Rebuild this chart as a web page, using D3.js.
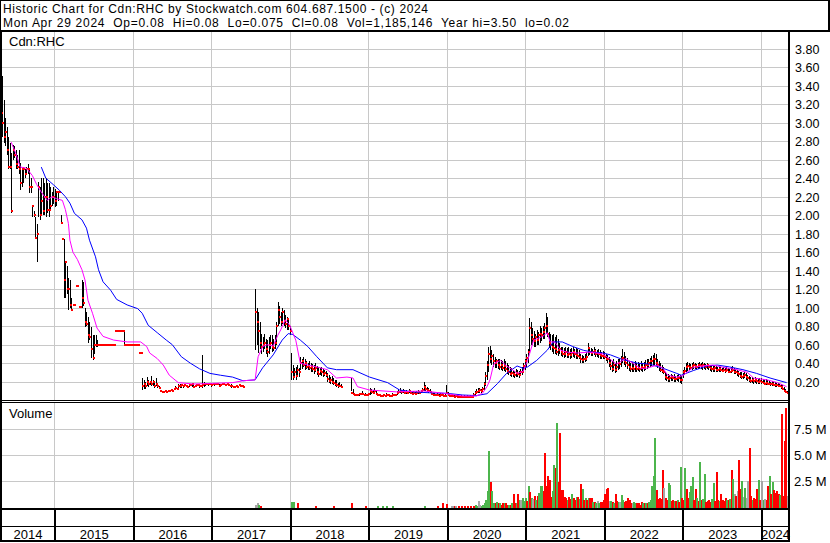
<!DOCTYPE html>
<html><head><meta charset="utf-8">
<script src="https://cdn.jsdelivr.net/npm/d3@7"></script>
<style>
body{margin:0;background:#fff;}
svg{display:block;font-family:"Liberation Sans",Arial,sans-serif;}
text{white-space:pre;}
</style></head><body>
<svg id="c" width="830" height="543"></svg>
<script>
// ---------------- DATA ----------------
const titleLine1 = "Historic Chart for Cdn:RHC by Stockwatch.com 604.687.1500 - (c) 2024";
const titleLine2 = "Mon Apr 29 2024  Op=0.08  Hi=0.08  Lo=0.075  Cl=0.08  Vol=1,185,146  Year hi=3.50  lo=0.02";
const symbolLabel = "Cdn:RHC";
const volumeLabel = "Volume";
const firstWeek = new Date(2014, 3, 28);
const lastWeek = new Date(2024, 3, 29);
const priceTicks = [0.2,0.4,0.6,0.8,1.0,1.2,1.4,1.6,1.8,2.0,2.2,2.4,2.6,2.8,3.0,3.2,3.4,3.6,3.8];
const volTicks = [2.5, 5.0, 7.5];            // millions
const volTickLabels = ["2.5 M", "5.0 M", "7.5 M"];
const yearLabels = ["2014","2015","2016","2017","2018","2019","2020","2021","2022","2023","2024"];

// weekly high / low / close (null = no trade range)
const hi = [
3.30,3.50,3.25,3.05,2.95,2.85,2.78,2.67,2.76,2.75,
2.70,2.65,2.70,2.56,2.50,2.52,2.50,2.52,2.55,2.49,
2.40,2.11,2.05,1.98,1.90,2.36,2.30,2.40,2.40,2.35,
2.40,2.35,2.35,2.30,2.25,2.30,2.28,2.25,2.25,null,
2.00,null,1.74,1.49,1.45,1.32,1.30,1.10,null,null,
null,null,null,null,1.30,1.28,1.00,0.95,0.90,0.85,
0.79,0.70,0.70,0.70,0.65,null,null,null,null,null,
null,null,null,null,null,null,null,null,null,null,
null,null,0.75,null,null,null,null,null,null,null,
null,null,null,null,0.24,0.22,0.20,0.25,0.22,0.20,
0.26,0.22,0.20,0.24,0.17,0.15,null,null,null,null,
null,null,null,null,null,null,0.15,null,0.17,0.18,
0.17,0.16,0.17,null,0.16,0.17,null,0.18,0.17,null,
0.17,null,0.16,null,0.49,0.20,0.18,null,0.19,null,
0.18,null,0.18,null,null,0.17,null,null,null,0.18,
null,null,null,0.17,null,null,null,null,null,null,
null,null,null,null,null,null,null,null,null,1.20,
1.00,0.95,0.85,0.72,0.68,0.72,0.66,0.65,0.68,0.70,
0.70,0.66,0.70,0.85,1.06,1.02,0.95,1.00,0.98,0.92,
0.90,0.87,0.80,0.51,0.38,0.35,0.36,0.38,0.35,0.47,
0.45,0.47,0.44,0.42,0.40,0.42,0.40,0.39,0.38,0.40,
0.37,0.36,0.35,0.36,0.34,0.33,0.32,0.29,0.27,0.25,
0.26,0.24,0.22,0.22,0.19,0.20,0.18,null,null,null,
null,null,null,0.24,0.12,0.08,0.07,null,0.08,null,
0.10,null,0.08,null,0.08,0.13,0.12,0.11,0.13,0.10,
0.08,null,0.07,null,0.07,null,0.08,null,0.07,null,
0.08,null,0.07,0.10,0.12,0.13,0.11,0.12,0.10,0.11,
0.10,0.12,0.10,0.09,0.10,0.09,0.10,0.11,0.10,0.11,
0.13,0.20,0.16,0.14,0.13,0.12,0.10,0.08,0.08,0.07,
0.08,0.07,0.08,0.08,0.07,0.07,0.16,0.09,0.07,0.06,
0.07,0.06,0.06,0.06,0.06,0.05,0.06,0.05,0.06,0.05,
0.06,0.05,0.06,0.05,0.08,0.10,0.12,0.13,0.13,0.12,
0.14,0.20,0.30,0.42,0.58,0.59,0.54,0.50,0.47,0.45,
0.44,0.45,0.43,0.42,0.44,0.42,0.40,0.38,0.36,0.35,
0.33,0.32,0.34,0.33,0.32,0.34,0.36,0.40,0.45,0.50,
0.55,0.89,0.85,0.78,0.75,0.72,0.76,0.74,0.80,0.78,
0.80,0.84,0.94,0.90,0.74,0.72,0.70,0.72,0.68,0.70,
0.66,0.62,0.58,0.57,0.56,0.58,0.56,0.57,0.55,0.56,
0.57,0.55,0.56,0.55,0.54,0.50,0.49,0.48,0.50,0.52,
0.62,0.58,0.56,0.55,0.57,0.55,0.54,0.55,0.54,0.52,
0.53,0.52,0.50,0.49,0.47,0.45,0.42,0.44,0.40,0.42,
0.45,0.44,0.48,0.55,0.52,0.48,0.46,0.42,0.40,0.41,
0.40,0.42,0.40,0.41,0.40,0.42,0.40,0.41,0.43,0.44,
0.45,0.46,0.48,0.49,0.51,0.50,0.45,0.42,0.40,0.38,
0.36,0.30,0.29,0.28,0.27,0.28,0.27,0.28,0.26,0.27,
0.28,0.27,0.26,0.33,0.36,0.40,0.41,0.40,0.39,0.40,
0.41,0.40,0.39,0.40,0.41,0.40,0.41,0.40,0.39,0.40,
0.39,0.38,0.38,0.37,0.38,0.37,0.36,0.37,0.36,0.35,
0.36,0.35,0.36,0.35,0.34,0.36,0.37,0.35,0.34,0.33,
0.32,0.30,0.30,0.29,0.30,0.29,0.27,0.26,0.25,0.25,
0.24,0.25,0.24,0.23,0.24,0.24,0.23,0.22,0.23,0.22,
0.21,0.20,0.21,0.20,0.20,0.19,0.19,0.18,0.17,0.16,
0.14,0.12,0.10];
const lo = [
2.95,2.85,2.78,2.75,2.65,2.50,2.50,2.02,2.60,2.62,
2.50,2.50,2.45,2.27,2.30,2.35,2.40,2.45,2.45,2.24,
2.24,1.98,1.98,1.74,1.49,1.98,1.95,2.00,2.00,2.00,
1.98,2.02,1.98,2.05,2.10,2.12,2.09,2.10,2.15,null,
1.90,null,1.10,1.10,1.15,0.97,1.00,0.97,null,null,
null,null,null,null,1.00,1.02,0.79,0.80,0.62,0.65,
0.46,0.43,0.50,0.57,0.57,null,null,null,null,null,
null,null,null,null,null,null,null,null,null,null,
null,null,0.60,null,null,null,null,null,null,null,
null,null,null,null,0.11,0.12,0.12,0.15,0.14,0.16,
0.15,0.15,0.13,0.15,0.13,0.12,null,null,null,null,
null,null,null,null,null,null,0.11,null,0.12,0.13,
0.13,0.13,0.14,null,0.13,0.14,null,0.14,0.13,null,
0.14,null,0.13,null,0.13,0.14,0.15,null,0.15,null,
0.14,null,0.15,null,null,0.14,null,null,null,0.15,
null,null,null,0.13,null,null,null,null,null,null,
null,null,null,null,null,null,null,null,null,0.54,
0.60,0.51,0.55,0.50,0.52,0.55,0.50,0.47,0.50,0.55,
0.52,0.53,0.55,0.60,0.80,0.82,0.80,0.82,0.80,0.78,
0.76,0.76,0.70,0.22,0.22,0.24,0.22,0.26,0.25,0.33,
0.34,0.36,0.33,0.34,0.33,0.33,0.30,0.31,0.28,0.30,
0.27,0.25,0.27,0.26,0.25,0.26,0.25,0.20,0.19,0.18,
0.18,0.16,0.15,0.14,0.13,0.14,0.13,null,null,null,
null,null,null,0.10,0.06,0.05,0.05,null,0.05,null,
0.06,null,0.05,null,0.05,0.06,0.07,0.07,0.07,0.06,
0.05,null,0.04,null,0.05,null,0.05,null,0.04,null,
0.05,null,0.05,0.06,0.07,0.08,0.07,0.08,0.07,0.07,
0.07,0.08,0.07,0.06,0.07,0.06,0.07,0.07,0.07,0.08,
0.09,0.10,0.10,0.09,0.08,0.08,0.06,0.05,0.05,0.05,
0.05,0.04,0.05,0.05,0.04,0.04,0.07,0.05,0.04,0.04,
0.04,0.035,0.04,0.035,0.035,0.03,0.035,0.03,0.035,0.03,
0.035,0.03,0.03,0.03,0.04,0.06,0.07,0.08,0.08,0.08,
0.09,0.11,0.15,0.22,0.30,0.40,0.38,0.36,0.35,0.35,
0.34,0.33,0.33,0.32,0.32,0.30,0.28,0.27,0.26,0.25,
0.25,0.24,0.25,0.25,0.24,0.26,0.27,0.30,0.33,0.36,
0.40,0.51,0.60,0.60,0.58,0.58,0.60,0.60,0.62,0.64,
0.66,0.66,0.72,0.68,0.56,0.54,0.52,0.50,0.50,0.49,
0.48,0.50,0.48,0.47,0.46,0.47,0.46,0.46,0.45,0.46,
0.47,0.46,0.45,0.45,0.44,0.40,0.40,0.40,0.41,0.42,
0.48,0.49,0.48,0.48,0.49,0.47,0.47,0.46,0.45,0.45,
0.45,0.44,0.42,0.40,0.36,0.33,0.30,0.32,0.29,0.31,
0.33,0.34,0.36,0.40,0.38,0.36,0.34,0.32,0.30,0.31,
0.30,0.31,0.30,0.32,0.31,0.32,0.30,0.32,0.33,0.34,
0.35,0.36,0.37,0.38,0.38,0.37,0.35,0.32,0.30,0.29,
0.28,0.22,0.21,0.20,0.20,0.21,0.21,0.20,0.20,0.21,
0.20,0.19,0.18,0.24,0.27,0.30,0.32,0.33,0.33,0.33,
0.34,0.34,0.33,0.34,0.35,0.34,0.33,0.34,0.33,0.34,
0.33,0.32,0.31,0.31,0.31,0.30,0.30,0.31,0.30,0.30,
0.30,0.29,0.30,0.29,0.29,0.29,0.30,0.28,0.28,0.26,
0.25,0.24,0.23,0.23,0.24,0.22,0.21,0.20,0.19,0.19,
0.18,0.19,0.18,0.18,0.18,0.17,0.17,0.16,0.16,0.16,
0.16,0.15,0.15,0.15,0.14,0.14,0.14,0.14,0.12,0.11,
0.09,0.075,0.075];
const cl = [
3.10,3.00,2.85,2.90,2.70,2.52,2.52,2.05,2.70,2.65,
2.55,2.52,2.50,2.35,2.50,2.50,2.45,2.50,2.50,2.30,
2.30,2.10,2.00,1.75,1.80,2.30,2.00,2.15,2.05,2.20,
2.20,2.06,2.06,2.10,2.20,2.20,2.15,2.25,2.25,2.25,
1.92,1.74,1.30,1.49,1.20,1.20,1.03,0.98,1.03,1.03,
1.24,1.24,1.01,1.01,1.10,1.05,0.85,0.82,0.70,0.68,
0.55,0.46,0.60,0.60,0.60,0.60,0.60,0.60,0.60,0.60,
0.60,0.60,0.60,0.60,0.60,0.60,0.75,0.75,0.75,0.75,
0.75,0.75,0.60,0.60,0.60,0.60,0.60,0.60,0.60,0.60,
0.60,0.60,0.51,0.51,0.15,0.18,0.15,0.20,0.18,0.20,
0.17,0.20,0.15,0.17,0.15,0.13,0.10,0.09,0.09,0.10,
0.09,0.10,0.10,0.11,0.10,0.12,0.13,0.12,0.15,0.15,
0.16,0.15,0.16,0.15,0.14,0.16,0.16,0.17,0.14,0.15,
0.16,0.16,0.15,0.15,0.16,0.17,0.17,0.18,0.17,0.17,
0.16,0.17,0.17,0.18,0.17,0.15,0.16,0.17,0.17,0.16,
0.17,0.16,0.15,0.15,0.14,0.14,0.15,0.14,0.16,0.15,
0.15,0.14,null,null,null,null,null,null,null,0.95,
0.85,0.75,0.62,0.58,0.60,0.62,0.55,0.52,0.60,0.62,
0.58,0.56,0.62,0.80,0.98,0.90,0.85,0.95,0.86,0.82,
0.88,0.80,0.75,0.30,0.25,0.30,0.26,0.33,0.30,0.40,
0.42,0.38,0.40,0.36,0.37,0.35,0.36,0.34,0.33,0.35,
0.30,0.28,0.32,0.30,0.28,0.29,0.27,0.23,0.21,0.22,
0.20,0.19,0.18,0.16,0.15,0.15,0.14,null,null,null,
null,null,null,0.08,0.07,0.06,0.06,0.06,0.07,0.07,
0.07,0.06,0.06,0.06,0.07,0.10,0.09,0.08,0.10,0.07,
0.06,0.06,0.05,0.05,0.06,0.05,0.06,0.06,0.05,0.05,
0.06,0.06,0.06,0.08,0.09,0.10,0.09,0.10,0.08,0.09,
0.08,0.10,0.08,0.07,0.08,0.07,0.08,0.09,0.08,0.10,
0.11,0.14,0.12,0.11,0.10,0.09,0.07,0.06,0.06,0.06,
0.06,0.05,0.06,0.06,0.05,0.05,0.08,0.06,0.05,0.05,
0.05,0.04,0.05,0.04,0.04,0.04,0.04,0.035,0.04,0.04,
0.04,0.035,0.04,0.04,0.06,0.08,0.09,0.10,0.11,0.10,
0.12,0.18,0.26,0.38,0.50,0.45,0.48,0.42,0.40,0.42,
0.38,0.36,0.38,0.35,0.37,0.34,0.32,0.30,0.28,0.29,
0.28,0.27,0.29,0.28,0.27,0.30,0.31,0.37,0.42,0.46,
0.52,0.78,0.70,0.66,0.64,0.68,0.65,0.70,0.72,0.70,
0.74,0.78,0.80,0.72,0.62,0.60,0.58,0.56,0.55,0.52,
0.54,0.55,0.52,0.50,0.50,0.52,0.49,0.50,0.49,0.51,
0.52,0.50,0.49,0.48,0.47,0.44,0.43,0.44,0.45,0.47,
0.56,0.52,0.51,0.52,0.53,0.50,0.51,0.50,0.49,0.48,
0.48,0.47,0.45,0.44,0.40,0.37,0.34,0.38,0.33,0.36,
0.40,0.39,0.44,0.46,0.42,0.40,0.38,0.36,0.34,0.35,
0.34,0.36,0.34,0.35,0.34,0.36,0.35,0.36,0.38,0.38,
0.40,0.42,0.42,0.44,0.45,0.40,0.38,0.36,0.33,0.32,
0.30,0.25,0.24,0.23,0.24,0.25,0.24,0.23,0.23,0.24,
0.24,0.22,0.22,0.30,0.32,0.36,0.37,0.36,0.35,0.37,
0.38,0.37,0.36,0.38,0.38,0.37,0.38,0.37,0.36,0.38,
0.36,0.35,0.34,0.34,0.35,0.33,0.33,0.34,0.33,0.32,
0.33,0.32,0.33,0.31,0.31,0.32,0.33,0.31,0.30,0.29,
0.28,0.26,0.25,0.26,0.27,0.25,0.24,0.22,0.21,0.22,
0.21,0.22,0.21,0.20,0.21,0.20,0.19,0.18,0.19,0.18,
0.18,0.17,0.17,0.16,0.16,0.16,0.15,0.15,0.14,0.12,
0.10,0.09,0.08];

// weekly volume in millions, starting at week index volFirstWeek
const volFirstWeek = 169;
const volume = [
0.2,0.3,0.15,0.1,0,0,0,0,0,0,0,
0,0,0,0,0,0,0,0,0,0,
0,0,0,0.45,0.45,0,0,0.3,0,0,
0,0,0,0,0,0,0,0,0,0.1,
0,0,0,0,0,0,0,0,0,0,
0,0.1,0,0,0,0,0,0,0,0,
0,0,0,0.35,0,0,0,0,0,0,
0,0,0.1,0,0,0,0,0,0,0,
0.1,0,0,0.1,0,0,0.1,0,0,0,
0.1,0,0,0,0,0,0,0,0,0,
0,0,0,0,0,0,0,0,0,0,
0,0.1,0,0,0,0,0,0,0,0,
0.1,0,0,0.3,0,0,0.25,0,0,0.1,
0.1,0.1,0.1,0,0.1,0,0.1,0,0.1,0,
0.1,0,0.1,0,0.1,0.2,0.1,0.5,0.2,0.1,
0.2,0.3,0.6,1.5,5.35,2.4,1.5,0.3,0.3,0.4,
0.3,0.3,0.2,0.3,0.3,0.3,0.2,0.2,0.2,0.3,
1.2,0.3,0.3,1.2,0.6,0.6,0.8,0.5,0.8,0.5,
2.0,1.4,0.8,0.7,1.0,0.6,1.0,1.3,2.0,2.0,
1.5,5.2,2.0,2.9,2.6,0.9,1.5,4.0,3.7,8.0,
2.4,7.1,1.6,1.6,0.9,0.8,0.6,0.9,0.7,1.2,
0.8,0.6,0.9,0.9,0.7,2.2,1.7,0.6,0.8,0.6,
0.8,0.8,0.8,0.4,0.4,0.3,0.5,0.3,0.4,0.4,
0.6,1.2,1.7,1.8,0.5,0.5,0.4,0.3,1.25,0.5,
0.4,0.4,1.1,0.6,0.4,0.5,0.8,0.6,0.3,0.3,
0.4,0.3,0.3,0.3,0.2,0.4,0.3,0.3,0.3,0.3,
0.4,0.6,1.95,2.9,6.6,1.6,0.7,0.8,0.7,3.5,
1.75,0.8,0.6,2.3,2.1,0.5,0.6,0.5,0.5,0.6,
0.4,3.8,0.8,0.6,3.7,1.7,0.8,1.4,2.0,2.8,
0.6,1.7,0.8,0.5,4.3,0.6,0.7,3.1,0.4,0.5,
0.6,0.4,0.7,2.3,0.5,3.3,0.6,0.5,1.2,0.6,
0.5,0.8,0.6,0.6,0.7,3.5,2.7,1.2,1.0,1.5,
4.5,1.7,2.5,0.9,1.8,0.8,2.5,5.6,1.0,0.6,
0.8,0.7,1.7,2.6,0.6,2.5,0.6,0.7,0.6,2.0,
2.9,1.2,2.4,1.6,1.3,1.5,1.2,1.1,8.9,1.0,
6.3,9.5,1.0];
// u = up week, d = down week, n = unchanged
const volDir = (
"nnudnnnnnnn" + "nnnnnnnnnn" + "nnnuunndnn" + "nnnnnnnnnd" + "nnnnnnnnnn" +
"ndnnnnnnnn" + "nnndnnnnnn" + "nndnnnnnnn" + "unnunnunnn" + "unnnnnnnnn" +
"nnnnnnnnnn" + "nunnnnnnnn" + "dnndnndnnn" + "ndnndndndn" + "dndnduunnu" +
"uuuuuduudu" + "dudduddudu" + "ddudunuuud" + "udunduduuu" + "dddddduudu" +
"dddddduddu" + "ddudududud" + "uddudunudd" + "ddddnududd" + "unuudddddn" +
"uuddddudud" + "uuuuuddddd" + "ndduuddudu" + "duddudduuu" + "ddududuudd" +
"dduudddudd" + "ddududundn" + "ddununnddu" + "dddudnundd" + "ududdddudd" +
"ddn").split("");

// moving averages: week index -> value
const maShortWeek = [7,10,13,17,21,24,27,31,34,37,41,43,45,46,48,51,54,56,58,61,64,68,75,84,93,97,99,104,108,112,118,128,137,154,161,169,171,174,177,181,184,186,189,192,196,199,204,210,217,223,230,234,237,245,263,281,294,307,316,320,323,325,327,328,332,336,340,343,347,350,354,357,360,363,365,368,372,376,383,391,400,405,409,415,418,425,429,436,440,443,449,453,460,466,473,480,489,496,500,509,516,522];
const maShortVal = [2.79,2.67,2.52,2.51,2.43,2.33,2.25,2.16,2.20,2.18,2.16,2.06,1.91,1.73,1.60,1.52,1.41,1.30,1.08,0.94,0.78,0.69,0.65,0.63,0.63,0.58,0.51,0.45,0.38,0.27,0.19,0.175,0.18,0.19,0.21,0.22,0.47,0.58,0.60,0.586,0.70,0.76,0.87,0.81,0.65,0.40,0.38,0.36,0.33,0.24,0.25,0.24,0.146,0.11,0.09,0.10,0.075,0.045,0.045,0.075,0.146,0.22,0.36,0.40,0.43,0.37,0.33,0.29,0.31,0.43,0.65,0.67,0.69,0.73,0.63,0.63,0.54,0.52,0.51,0.52,0.50,0.44,0.39,0.45,0.42,0.345,0.345,0.38,0.345,0.27,0.25,0.265,0.355,0.37,0.38,0.355,0.33,0.30,0.24,0.22,0.19,0.146];
const maLongWeek = [27,30,35,39,43,46,49,54,57,59,63,65,68,73,77,84,91,94,98,104,110,114,120,126,132,139,146,154,161,169,174,181,187,191,194,199,204,210,217,223,234,245,257,265,274,285,296,307,316,323,330,336,343,347,350,356,363,367,373,380,387,393,400,405,413,423,431,440,449,452,460,469,476,484,493,502,511,522];
const maLongVal = [2.52,2.40,2.33,2.27,2.20,2.13,2.02,1.95,1.86,1.73,1.55,1.41,1.28,1.19,1.09,1.03,0.99,0.94,0.81,0.73,0.65,0.60,0.47,0.40,0.34,0.29,0.27,0.25,0.21,0.22,0.35,0.49,0.65,0.72,0.71,0.65,0.58,0.47,0.35,0.33,0.33,0.25,0.19,0.11,0.09,0.08,0.075,0.056,0.05,0.07,0.18,0.29,0.37,0.345,0.36,0.43,0.54,0.63,0.63,0.58,0.54,0.52,0.51,0.49,0.44,0.40,0.39,0.345,0.29,0.27,0.32,0.37,0.38,0.36,0.33,0.29,0.24,0.19];

// ---------------- CHART ----------------
const svg = d3.select("#c");
const W = 830, H = 543;
const plotL = 2, plotR = 788;
const priceTop = 32, priceBot = 400;
const volTop = 403, volBot = 508;
const dateTop = 510, dateBot = 541;

const weeks = d3.timeMonday.range(firstWeek, d3.timeDay.offset(lastWeek, 1));
const x = d3.scaleTime().domain([firstWeek, lastWeek]).range([0.66, 786.6]);
const y = d3.scaleLinear().domain([0, 3.8]).range([400.2, 48.7]);
const yv = d3.scaleLinear().domain([0, 10]).range([506.6, 402.6]);

svg.append("rect").attr("width", W).attr("height", H).attr("fill", "#fff");

const defs = svg.append("defs");
defs.append("clipPath").attr("id", "cp").append("rect")
  .attr("x", plotL).attr("y", priceTop).attr("width", plotR - plotL).attr("height", priceBot - priceTop);
defs.append("clipPath").attr("id", "cv").append("rect")
  .attr("x", plotL).attr("y", volTop).attr("width", plotR - plotL).attr("height", volBot - volTop);

const yearStarts = d3.timeYear.range(new Date(2015, 0, 1), new Date(2024, 0, 2));
const gridColor = "#c8c8c8";

// grid - price
const gp = svg.append("g").attr("shape-rendering", "crispEdges");
gp.selectAll("line.h").data(priceTicks).join("line")
  .attr("x1", plotL).attr("x2", plotR)
  .attr("y1", d => Math.round(y(d)) + 0.5).attr("y2", d => Math.round(y(d)) + 0.5)
  .attr("stroke", gridColor);
gp.selectAll("line.v").data(yearStarts).join("line")
  .attr("x1", d => Math.round(x(d)) + 0.5).attr("x2", d => Math.round(x(d)) + 0.5)
  .attr("y1", priceTop).attr("y2", priceBot)
  .attr("stroke", gridColor);
// grid - volume
const gv = svg.append("g").attr("shape-rendering", "crispEdges");
gv.selectAll("line.h").data(volTicks).join("line")
  .attr("x1", plotL).attr("x2", plotR)
  .attr("y1", d => Math.round(yv(d)) + 0.5).attr("y2", d => Math.round(yv(d)) + 0.5)
  .attr("stroke", gridColor);
gv.selectAll("line.v").data(yearStarts).join("line")
  .attr("x1", d => Math.round(x(d)) + 0.5).attr("x2", d => Math.round(x(d)) + 0.5)
  .attr("y1", volTop).attr("y2", volBot)
  .attr("stroke", gridColor);

// price bars
const bars = weeks.map((d, i) => ({ d, hi: hi[i], lo: lo[i], cl: cl[i] }));
const gBars = svg.append("g").attr("clip-path", "url(#cp)").attr("shape-rendering", "crispEdges");
gBars.selectAll("rect.bar").data(bars.filter(b => b.hi != null && b.lo != null)).join("rect")
  .attr("x", b => Math.round(x(b.d))).attr("width", 1)
  .attr("y", b => Math.round(y(b.hi))).attr("height", b => Math.max(1, Math.round(y(b.lo)) - Math.round(y(b.hi))))
  .attr("fill", "#000");
gBars.selectAll("rect.cl").data(bars.filter(b => b.cl != null)).join("rect")
  .attr("x", b => Math.round(x(b.d))).attr("width", 2)
  .attr("y", b => Math.round(y(b.cl)) - 1).attr("height", 2)
  .attr("fill", "#ff0000");

// moving averages
const line = d3.line().x(p => x(weeks[p.w])).y(p => y(p.v));
const gMA = svg.append("g").attr("clip-path", "url(#cp)");
gMA.append("path").datum(maLongWeek.map((w, k) => ({ w, v: maLongVal[k] })))
  .attr("d", line).attr("fill", "none").attr("stroke", "#0000ff").attr("stroke-width", 1);
gMA.append("path").datum(maShortWeek.map((w, k) => ({ w, v: maShortVal[k] })))
  .attr("d", line).attr("fill", "none").attr("stroke", "#ff00ff").attr("stroke-width", 1);

// volume bars
const volColor = { u: "#4cb54c", d: "#ff0000", n: "#a6a6a6" };
const vols = volume.map((v, k) => ({ d: weeks[volFirstWeek + k], v, dir: volDir[k] })).filter(o => o.v > 0);
svg.append("g").attr("clip-path", "url(#cv)").attr("shape-rendering", "crispEdges")
  .selectAll("rect").data(vols).join("rect")
  .attr("x", o => Math.round(x(o.d))).attr("width", 2)
  .attr("y", o => Math.round(yv(o.v))).attr("height", o => volBot - Math.round(yv(o.v)))
  .attr("fill", o => volColor[o.dir]);

// frames
const fr = svg.append("g").attr("shape-rendering", "crispEdges").attr("fill", "#000");
fr.append("rect").attr("x", 0).attr("y", 0).attr("width", W).attr("height", 1);       // title top
fr.append("rect").attr("x", 0).attr("y", 0).attr("width", 1).attr("height", 31);      // title left
fr.append("rect").attr("x", 828).attr("y", 0).attr("width", 2).attr("height", 32);    // title right
fr.append("rect").attr("x", 0).attr("y", 30).attr("width", W).attr("height", 2);      // title bottom
fr.append("rect").attr("x", 0).attr("y", 30).attr("width", 2).attr("height", dateBot + 1 - 30); // left
fr.append("rect").attr("x", plotR).attr("y", 30).attr("width", 2).attr("height", dateBot + 1 - 30); // right
fr.append("rect").attr("x", 0).attr("y", priceBot).attr("width", plotR + 2).attr("height", 1);
fr.append("rect").attr("x", 0).attr("y", 402).attr("width", plotR + 2).attr("height", 1);
fr.append("rect").attr("x", 0).attr("y", volBot).attr("width", plotR + 2).attr("height", 2);
fr.append("rect").attr("x", 0).attr("y", 526).attr("width", plotR + 2).attr("height", 1);
fr.append("rect").attr("x", 0).attr("y", dateBot - 1).attr("width", plotR + 2).attr("height", 2);
fr.selectAll("rect.ysep").data(yearStarts).join("rect")
  .attr("x", d => Math.round(x(d))).attr("width", 2)
  .attr("y", dateTop).attr("height", dateBot - dateTop);

// texts
const t = svg.append("g").attr("font-size", 13).attr("fill", "#000");
t.append("text").attr("x", 3).attr("y", 12.5).attr("font-size", 12)
  .attr("textLength", 425).attr("lengthAdjust", "spacing")
  .attr("xml:space", "preserve").text(titleLine1);
t.append("text").attr("x", 3).attr("y", 27).attr("font-size", 12)
  .attr("textLength", 566).attr("lengthAdjust", "spacing")
  .attr("xml:space", "preserve").text(titleLine2);
t.append("text").attr("x", 9).attr("y", 46).text(symbolLabel);
t.append("text").attr("x", 9).attr("y", 418).text(volumeLabel);
t.selectAll("text.pt").data(priceTicks).join("text")
  .attr("x", 795).attr("y", d => Math.round(y(d)) + 5).attr("font-size", 12.5)
  .text(d => d.toFixed(2));
t.selectAll("text.vt").data(volTicks).join("text")
  .attr("x", 794).attr("y", d => Math.round(yv(d)) + 5)
  .text((d, k) => volTickLabels[k]);
const bounds = [0, ...yearStarts.map(d => x(d)), plotR];
t.selectAll("text.yr").data(yearLabels).join("text")
  .attr("x", (d, k) => (bounds[k] + bounds[k + 1]) / 2 + 1)
  .attr("y", 539).attr("text-anchor", "middle")
  .text(d => d);
</script>
</body></html>
